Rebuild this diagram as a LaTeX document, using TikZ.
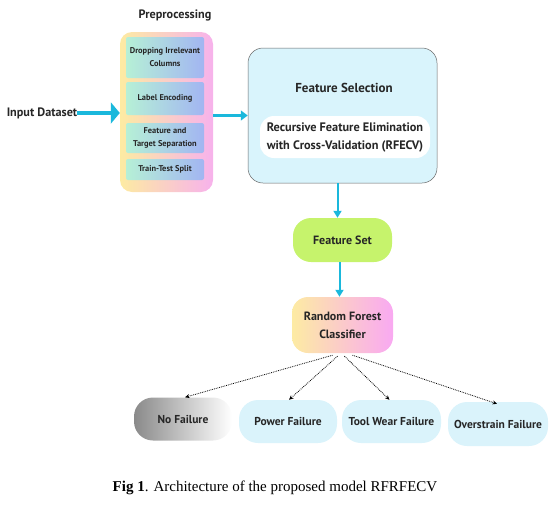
\documentclass[tikz,border=0pt]{standalone}
\usepackage{fontspec}
\setmainfont{Liberation Serif}
\newfontfamily\boxfont{PT Sans}
\usetikzlibrary{arrows.meta}

\definecolor{flowcyan}{HTML}{1AB8DC}
\definecolor{prepyellow}{HTML}{FDEBA2}
\definecolor{preppink}{HTML}{F7B2EC}
\definecolor{stepmint}{HTML}{B6F0D6}
\definecolor{stepblue}{HTML}{A2B5F2}
\definecolor{selblue}{HTML}{D9F4FC}
\definecolor{setlime}{HTML}{C6F36C}
\definecolor{rfyellow}{HTML}{FDEBA3}
\definecolor{rfpink}{HTML}{F9A9F2}
\definecolor{outblue}{HTML}{DAF3FB}
\definecolor{nfgray}{HTML}{8A8A8A}

\begin{document}
\begin{tikzpicture}[x=1pt,y=-1pt,
  txt/.style={font=\boxfont\bfseries\fontsize{12}{18}\selectfont, text=black!85, align=center, inner sep=0pt},
  prepstep/.style={txt, font=\boxfont\bfseries\fontsize{8.4}{13}\selectfont, minimum width=78pt, rounded corners=2pt, left color=stepmint, right color=stepblue},
  outbox/.style={txt, font=\boxfont\bfseries\fontsize{11.5}{13}\selectfont, minimum width=98pt, minimum height=43pt, rounded corners=19pt},
  flow/.style={draw=flowcyan, line width=2pt, -{Triangle[length=7pt,width=8pt]}},
  choice/.style={densely dotted, line width=0.8pt, -{Stealth[length=4.5pt,width=4pt]}}]
\useasboundingbox (0,0) rectangle (560,512);

% preprocessing block
\node[txt, font=\boxfont\bfseries\fontsize{12.2}{14}\selectfont] (preptitle) at (175,15) {Preprocessing};
\node[rounded corners=12pt, minimum width=93pt, minimum height=160pt, inner sep=0pt,
  left color=prepyellow, right color=preppink] (prep) at (166.5,112) {};
\node[prepstep, minimum height=41pt] (drop) at (165,57.5) {Dropping Irrelevant\\Columns};
\node[prepstep, minimum height=33pt] (encode) at (165,98.5) {Label Encoding};
\node[prepstep, minimum height=30pt] (separate) at (165,138) {Feature and\\Target Separation};
\node[prepstep, minimum height=21pt] (split) at (165,169.5) {Train-Test Split};

\node[txt, font=\boxfont\bfseries\fontsize{12.2}{14}\selectfont] (input) at (42,113) {Input Dataset};
\draw[draw=flowcyan, line width=4pt, -{Triangle[length=9pt,width=21pt]}] (input.east) -- (input.east -| prep.west);

% feature selection block
\node[draw=black!60, line width=0.5pt, fill=selblue, rounded corners=15pt,
  minimum width=189pt, minimum height=135pt] (select) at (342.5,115.5) {};
\node[txt, font=\boxfont\bfseries\fontsize{13}{15}\selectfont] (seltitle) at (344,88) {Feature Selection};
\node[txt, font=\boxfont\bfseries\fontsize{12.3}{18}\selectfont, fill=white, rounded corners=14pt,
  minimum width=170pt, minimum height=42pt] (rfecv) at (345,137)
  {Recursive Feature Elimination\\with Cross-Validation (RFECV)};
\draw[draw=flowcyan, line width=3pt, -{Triangle[length=7pt,width=10pt]}] (prep.east |- select.west) -- (select.west);

% model
\node[txt, fill=setlime, rounded corners=18pt, minimum width=99pt, minimum height=44pt] (featset) at (342.5,240) {Feature Set};
\node[txt, left color=rfyellow, right color=rfpink, rounded corners=16pt, minimum width=101pt, minimum height=56pt] (forest) at (342.5,325)
  {Random Forest\\Classifier};
\draw[flow] ([xshift=-5pt]select.south) -- ([xshift=-5pt]featset.north);
\draw[flow] ([xshift=-3pt]featset.south) -- ([xshift=-3pt]forest.north);

% outcomes
\node[outbox, left color=nfgray, right color=white] (nofail) at (183,419) {No Failure};
\node[outbox, fill=outblue] (power) at (288,421.5) {Power Failure};
\node[outbox, fill=outblue, minimum width=99pt] (toolwear) at (391.5,421.5) {Tool Wear Failure};
\node[outbox, fill=outblue, minimum width=100pt, minimum height=44pt] (overstrain) at (498,424) {Overstrain Failure};

\draw[choice] ([xshift=-10pt,yshift=-2pt]forest.south) -- ([xshift=2pt]nofail.north);
\draw[choice] ([xshift=-5pt,yshift=-3pt]forest.south) -- ([xshift=1pt]power.north);
\draw[choice] ([xshift=2pt,yshift=-3pt]forest.south) -- ([xshift=-2pt]toolwear.north);
\draw[choice] ([xshift=10pt,yshift=-2pt]forest.south) -- ([xshift=-1pt,yshift=-2pt]overstrain.north);

\node[font=\fontsize{15}{17}\selectfont, inner sep=0pt] (caption) at (275,488)
  {\textbf{Fig 1}. Architecture of the proposed model RFRFECV};
\end{tikzpicture}
\end{document}
